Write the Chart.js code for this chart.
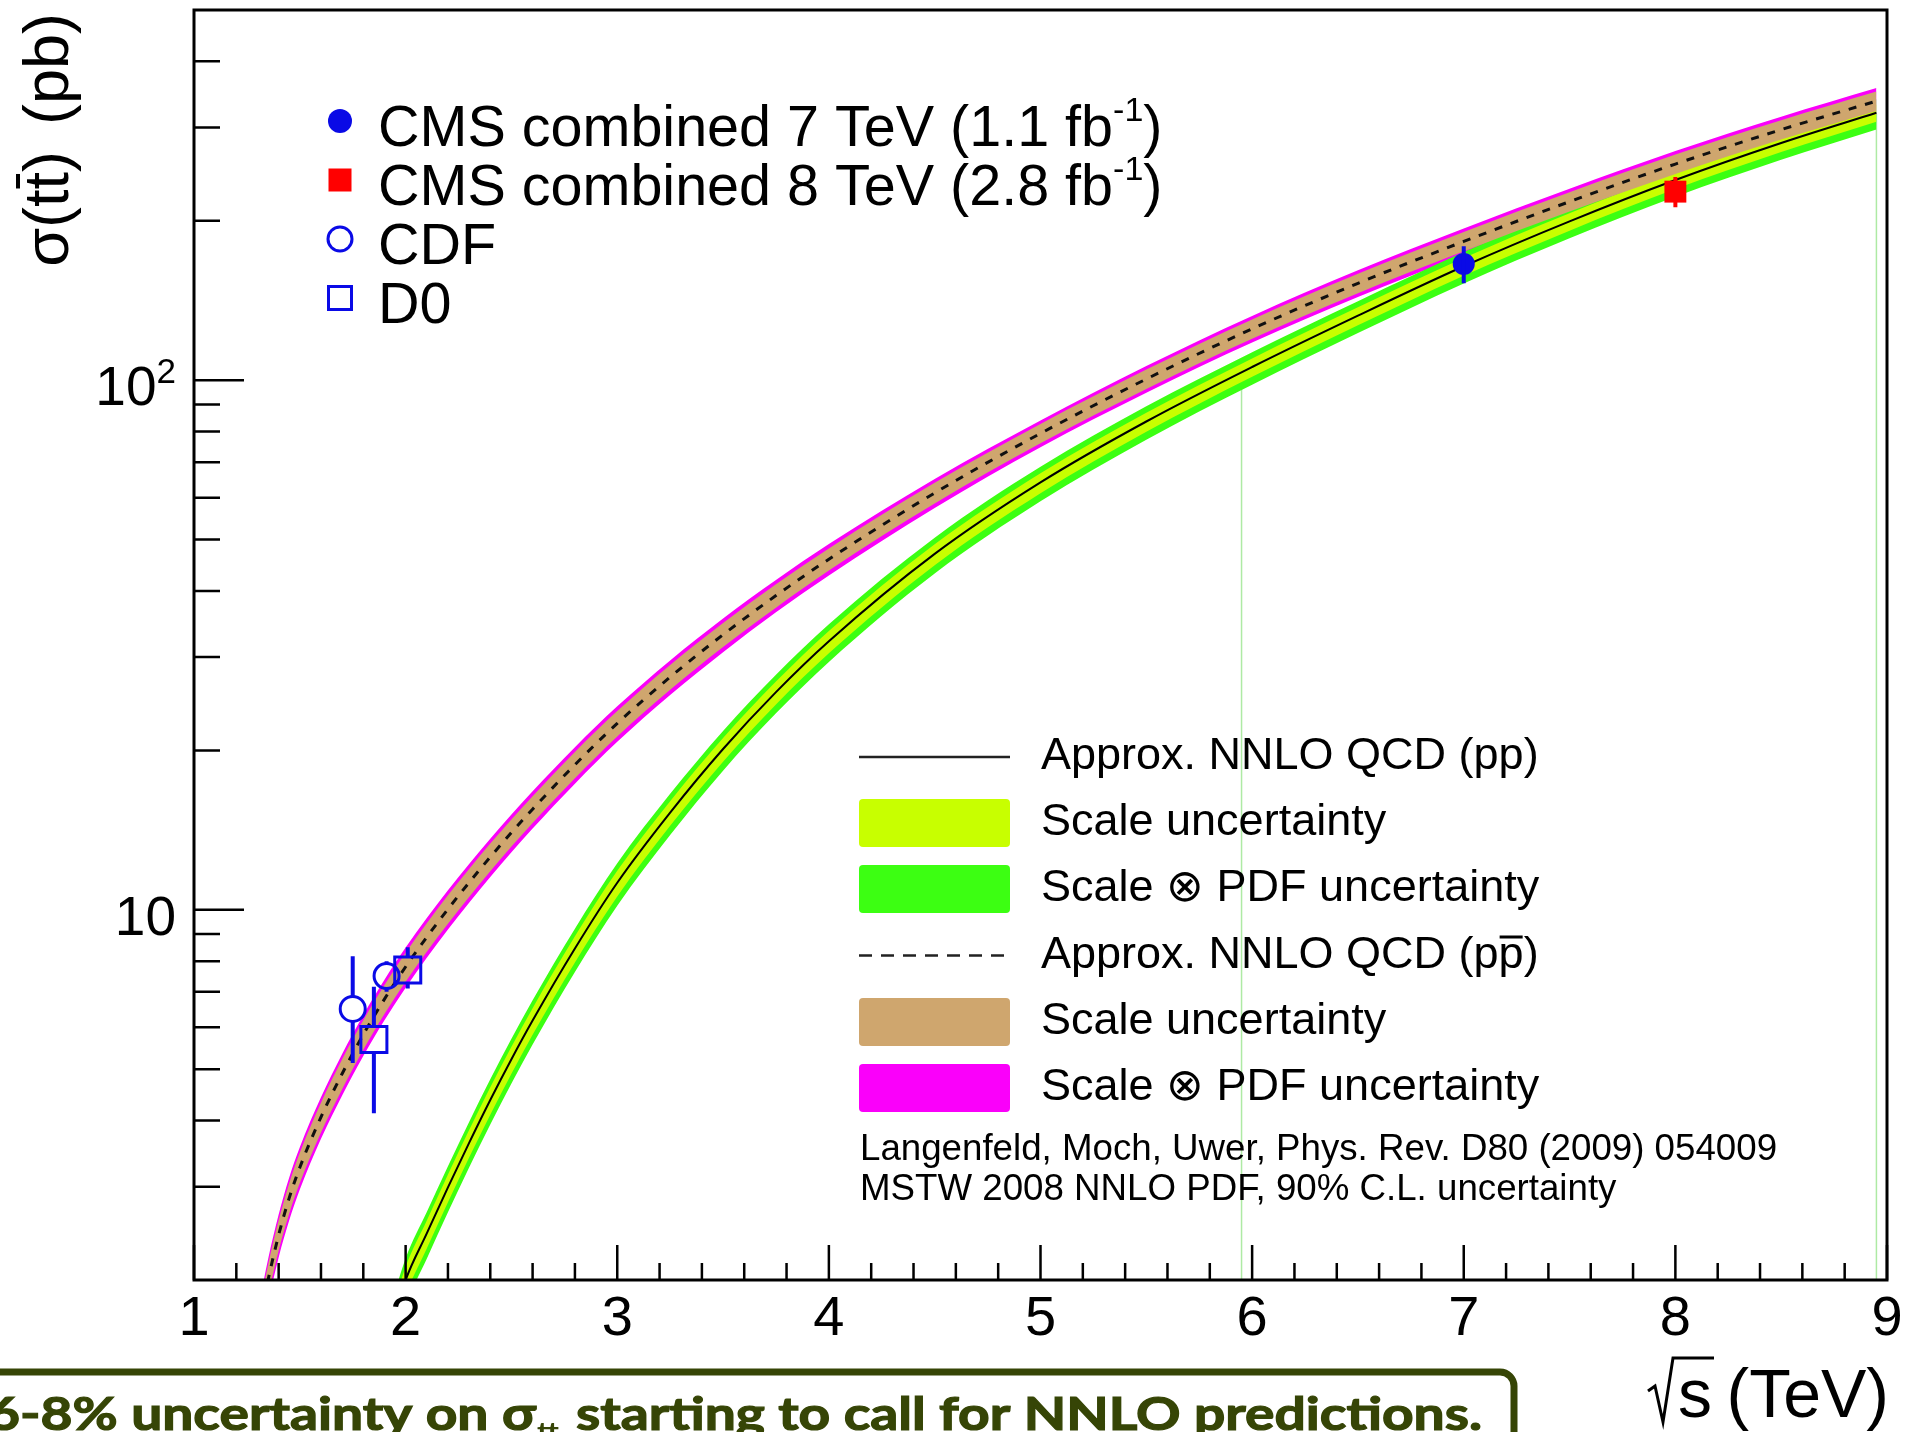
<!DOCTYPE html>
<html>
<head>
<meta charset="utf-8">
<script src="https://cdn.jsdelivr.net/npm/chart.js@4.4.1/dist/chart.umd.min.js"></script>
<style>
html,body{margin:0;padding:0;background:#fff;overflow:hidden}
canvas{display:block}
</style>
</head>
<body>
<canvas id="c" width="1905" height="1432"></canvas>
<script>
// ---------------- data ----------------
// pp (LHC) approx. NNLO prediction, sigma(ttbar) in pb
const sqrtS_pp   = [1.9, 2.0, 2.1, 2.2, 2.3, 2.4, 2.5, 2.6, 2.8, 3.0, 3.25, 3.5, 3.75, 4.0, 4.5, 5.0, 5.5, 6.0, 6.5, 7.0, 7.5, 8.0, 8.5, 8.95];
const pp_central = [1.48, 2.0, 2.449, 2.992, 3.631, 4.375, 5.224, 6.18, 8.453, 11.25, 15.26, 20.12, 25.76, 32.14, 46.99, 64.12, 83.56, 105.9, 132.4, 164.1, 199.5, 238.8, 280.5, 319.9];
// relative uncertainties in percent
const pp_scaleUpPct   = [5.9, 5.9, 5.8, 5.8, 5.7, 5.7, 5.6, 5.5, 5.4, 5.3, 5.1, 4.9, 4.7, 4.6, 4.3, 4.1, 3.9, 3.8, 3.7, 3.7, 3.6, 3.6, 3.5, 3.5];
const pp_scaleDownPct = [6.4, 6.4, 6.3, 6.3, 6.2, 6.2, 6.1, 6.0, 5.9, 5.8, 5.6, 5.4, 5.2, 5.1, 4.8, 4.6, 4.4, 4.2, 4.1, 4.0, 4.0, 3.9, 3.9, 3.9];
const pp_totUpPct     = [9.8, 9.8, 9.7, 9.6, 9.5, 9.4, 9.3, 9.2, 9.0, 8.8, 8.5, 8.2, 7.9, 7.7, 7.3, 7.0, 6.8, 6.6, 6.5, 6.4, 6.3, 6.2, 6.1, 6.0];
const pp_totDownPct   = [10.5, 10.5, 10.4, 10.3, 10.2, 10.1, 10.0, 9.9, 9.7, 9.5, 9.3, 9.0, 8.8, 8.6, 8.2, 7.9, 7.6, 7.4, 7.3, 7.2, 7.1, 7.0, 7.0, 7.0];

// p-pbar approx. NNLO prediction, sigma(ttbar) in pb
const sqrtS_ppbar   = [1.3, 1.35, 1.4, 1.45, 1.5, 1.6, 1.7, 1.8, 1.9, 2.0, 2.1, 2.2, 2.3, 2.4, 2.5, 2.6, 2.8, 3.0, 3.25, 3.5, 3.75, 4.0, 4.5, 5.0, 5.5, 6.0, 6.5, 7.0, 7.5, 8.0, 8.5, 8.95];
const ppbar_central = [1.589, 2.0, 2.432, 2.858, 3.263, 4.06, 4.903, 5.814, 6.783, 7.806, 8.882, 10.03, 11.26, 12.58, 13.99, 15.49, 18.79, 22.49, 27.51, 33.07, 39.2, 45.92, 61.24, 79.34, 100.5, 125.0, 152.4, 182.8, 217.3, 255.9, 297.2, 336.5];
const ppbar_scalePct = [6.7, 6.7, 6.6, 6.6, 6.6, 6.5, 6.5, 6.4, 6.3, 6.3, 6.2, 6.2, 6.1, 6.0, 5.9, 5.8, 5.7, 5.5, 5.4, 5.2, 5.1, 4.8, 4.5, 4.2, 4.2, 4.2, 4.2, 4.2, 4.2, 4.2, 4.2, 4.2];
const ppbar_totPct   = [9.4, 9.4, 9.3, 9.3, 9.2, 9.0, 9.0, 8.9, 8.8, 8.7, 8.6, 8.5, 8.4, 8.3, 8.2, 8.1, 7.9, 7.7, 7.5, 7.3, 7.0, 6.8, 6.3, 5.8, 5.8, 5.8, 5.8, 5.8, 5.8, 5.8, 5.8, 5.8];

// band edge artefact lines (vertical, light green), hidden under the band at the top
const edgeSqrtS  = [5.95, 8.95];
const edgeTop    = [103, 318];
const edgeBottom = [2, 2];

// measurements
const cms7_sqrtS = [7.0], cms7_xsec = [165.8], cms7_low = [152.5], cms7_high = [179];
const cms8_sqrtS = [8.0], cms8_xsec = [227],   cms8_low = [212],   cms8_high = [242];
const cdf_sqrtS  = [1.75, 1.91], cdf_xsec = [6.5, 7.5],  cdf_low = [5.14, 7.0], cdf_high = [8.17, 8.0];
const d0_sqrtS   = [1.85, 2.01], d0_xsec  = [5.69, 7.7], d0_low  = [4.13, 7.1], d0_high  = [7.16, 8.5];

// axes
const xTickValues = [1, 2, 3, 4, 5, 6, 7, 8, 9];
const xTickLabels = ['1', '2', '3', '4', '5', '6', '7', '8', '9'];
const yTickValues = [10, 100];
const yTickLabels = ['10', '10^{2}'];

// legends / texts
const topLegend = ['CMS combined 7 TeV (1.1 fb^{-1})', 'CMS combined 8 TeV (2.8 fb^{-1})', 'CDF', 'D0'];
const rightLegend = ['Approx. NNLO QCD (pp)', 'Scale uncertainty', 'Scale ⊗ PDF uncertainty', 'Approx. NNLO QCD (pp)', 'Scale uncertainty', 'Scale ⊗ PDF uncertainty'];
const citation = ['Langenfeld, Moch, Uwer, Phys. Rev. D80 (2009) 054009', 'MSTW 2008 NNLO PDF, 90% C.L. uncertainty'];
const bannerParts = ['6-8% uncertainty on σ', 'tt', ' starting to call for NNLO predictions.'];

// ---------------- styles ----------------
const F = '"Liberation Sans", Arial, Helvetica, sans-serif';
const C = {
  green: '#3cff12', yellow: '#c8ff00', tan: '#cfa66e', magenta: '#fa00fa',
  blue: '#0a0ae6', red: '#ff0000', olive: '#364506', edge: '#aeeaa4'
};

const pts = (xs, ys) => xs.map((x, i) => ({x, y: ys[i]}));
const edge = (xs, ys, pct, sign) => xs.map((x, i) => ({x, y: ys[i] * (1 + sign * pct[i] / 100)}));
function band(data, color, fillTo, order) {
  return {data, borderWidth: 0, pointRadius: 0, backgroundColor: color, borderColor: color,
          fill: fillTo === null ? false : fillTo, order, cubicInterpolationMode: 'monotone', clip: 0};
}

const datasets = [
  band(edge(sqrtS_ppbar, ppbar_central, ppbar_totPct, +1), C.magenta, 1, 10),    // 0
  band(edge(sqrtS_ppbar, ppbar_central, ppbar_totPct, -1), C.magenta, null, 10), // 1
  band(edge(sqrtS_pp, pp_central, pp_totUpPct, +1), C.green, 3, 9),              // 2
  band(edge(sqrtS_pp, pp_central, pp_totDownPct, -1), C.green, null, 9),         // 3
  band(edge(sqrtS_pp, pp_central, pp_scaleUpPct, +1), C.yellow, 5, 8),           // 4
  band(edge(sqrtS_pp, pp_central, pp_scaleDownPct, -1), C.yellow, null, 8),      // 5
  band(edge(sqrtS_ppbar, ppbar_central, ppbar_scalePct, +1), C.tan, 7, 7),       // 6
  band(edge(sqrtS_ppbar, ppbar_central, ppbar_scalePct, -1), C.tan, null, 7),    // 7
  {data: [{x: edgeSqrtS[0], y: edgeTop[0]}, {x: edgeSqrtS[0], y: edgeBottom[0]}], borderColor: C.edge, borderWidth: 1.5, pointRadius: 0, fill: false, order: 11, clip: 0},
  {data: [{x: edgeSqrtS[1], y: edgeTop[1]}, {x: edgeSqrtS[1], y: edgeBottom[1]}], borderColor: C.edge, borderWidth: 1.5, pointRadius: 0, fill: false, order: 11, clip: 0},
  {data: pts(sqrtS_pp, pp_central), borderColor: '#000', borderWidth: 2, pointRadius: 0, fill: false, order: 3, cubicInterpolationMode: 'monotone', clip: 0},
  {data: pts(sqrtS_ppbar, ppbar_central), borderColor: '#111', borderWidth: 3, borderDash: [8, 9], pointRadius: 0, fill: false, order: 3, cubicInterpolationMode: 'monotone', clip: 0},
  {data: pts(cms7_sqrtS, cms7_xsec), showLine: false, pointStyle: 'circle', pointRadius: 11, backgroundColor: C.blue, borderColor: C.blue, borderWidth: 0, order: 1, errLow: cms7_low, errHigh: cms7_high, errColor: C.blue, gap: 0},
  {data: pts(cms8_sqrtS, cms8_xsec), showLine: false, pointStyle: 'rect', pointRadius: 15.5, backgroundColor: C.red, borderColor: C.red, borderWidth: 0, order: 1, errLow: cms8_low, errHigh: cms8_high, errColor: C.red, gap: 0},
  {data: pts(cdf_sqrtS, cdf_xsec), showLine: false, pointStyle: 'circle', pointRadius: 12.5, backgroundColor: 'rgba(0,0,0,0)', borderColor: C.blue, borderWidth: 3, order: 1, errLow: cdf_low, errHigh: cdf_high, errColor: C.blue, gap: 13},
  {data: pts(d0_sqrtS, d0_xsec), showLine: false, pointStyle: 'rect', pointRadius: 18.4, backgroundColor: 'rgba(0,0,0,0)', borderColor: C.blue, borderWidth: 3, order: 1, errLow: d0_low, errHigh: d0_high, errColor: C.blue, gap: 13},
];

// ---------------- plugins ----------------
const errorBars = {
  id: 'errorBars',
  afterDatasetsDraw(chart) {
    const {ctx, scales: {x, y}} = chart;
    ctx.save();
    chart.data.datasets.forEach(ds => {
      if (!ds.errLow) return;
      ds.data.forEach((p, i) => {
        const px = x.getPixelForValue(p.x), py = y.getPixelForValue(p.y);
        const ph = y.getPixelForValue(ds.errHigh[i]), pl = y.getPixelForValue(ds.errLow[i]);
        ctx.strokeStyle = ds.errColor; ctx.lineWidth = 4; ctx.lineCap = 'butt';
        ctx.beginPath();
        if (ph < py - ds.gap) { ctx.moveTo(px, ph); ctx.lineTo(px, py - ds.gap); }
        if (pl > py + ds.gap) { ctx.moveTo(px, py + ds.gap); ctx.lineTo(px, pl); }
        ctx.stroke();
      });
    });
    ctx.restore();
  }
};

const frameTicks = {
  id: 'frameTicks',
  afterDatasetsDraw(chart) {
    const {ctx, chartArea: a, scales: {x, y}} = chart;
    ctx.save();
    ctx.strokeStyle = '#000';
    ctx.lineWidth = 2.5;
    ctx.beginPath();
    for (let k = 0; k <= 40; k++) {
      const v = 1 + k * 0.2;
      const px = x.getPixelForValue(v);
      const len = (k % 5 === 0) ? 35 : 17;
      ctx.moveTo(px, a.bottom); ctx.lineTo(px, a.bottom - len);
    }
    [1, 10, 100].forEach(d => {
      for (let m = 1; m <= 9; m++) {
        const v = d * m;
        if (v <= 2 || v >= 500) continue;
        const py = y.getPixelForValue(v);
        const len = (m === 1) ? 50 : 26;
        ctx.moveTo(a.left, py); ctx.lineTo(a.left + len, py);
      }
    });
    ctx.stroke();
    ctx.lineWidth = 3;
    ctx.strokeRect(a.left, a.top, a.right - a.left, a.bottom - a.top);
    ctx.restore();
  }
};

function drawRich(ctx, str, x, y, size, supSize, raise) {
  const parts = str.split(/\^\{([^}]*)\}/);
  let cx = x;
  parts.forEach((t, i) => {
    if (!t) return;
    if (i % 2 === 1) {
      ctx.font = `${supSize}px ${F}`;
      ctx.fillText(t, cx, y - raise);
    } else {
      ctx.font = `${size}px ${F}`;
      ctx.fillText(t, cx, y);
    }
    cx += ctx.measureText(t).width;
  });
  return cx - x;
}
function richWidth(ctx, str, size, supSize) {
  const parts = str.split(/\^\{([^}]*)\}/);
  let w = 0;
  parts.forEach((t, i) => {
    if (!t) return;
    ctx.font = `${i % 2 ? supSize : size}px ${F}`;
    w += ctx.measureText(t).width;
  });
  return w;
}

const annotations = {
  id: 'annotations',
  afterDraw(chart) {
    const {ctx, chartArea: a, scales: {y}} = chart;
    ctx.save();
    ctx.textBaseline = 'alphabetic';
    ctx.textAlign = 'left';
    ctx.fillStyle = '#000';

    // ---- y tick labels (10, 10^2) ----
    yTickValues.forEach((v, i) => {
      const py = y.getPixelForValue(v);
      const w = richWidth(ctx, yTickLabels[i], 55, 35);
      ctx.fillStyle = '#000';
      drawRich(ctx, yTickLabels[i], a.left - 18 - w, py + 25, 55, 35, 22);
    });

    // ---- top-left legend ----
    const tBase = [146, 205, 264, 323];
    const mx = 340;
    tBase.forEach((b, i) => {
      ctx.fillStyle = '#000';
      drawRich(ctx, topLegend[i], 378, b, 57.5, 34, 25);
      const my = b - 25;
      ctx.lineWidth = 3;
      if (i === 0) { ctx.fillStyle = C.blue; ctx.beginPath(); ctx.arc(mx, my, 12, 0, 2 * Math.PI); ctx.fill(); }
      if (i === 1) { ctx.fillStyle = C.red; ctx.fillRect(mx - 11.5, my - 11.5, 23, 23); }
      if (i === 2) { ctx.strokeStyle = C.blue; ctx.beginPath(); ctx.arc(mx, my, 12, 0, 2 * Math.PI); ctx.stroke(); }
      if (i === 3) { ctx.strokeStyle = C.blue; ctx.strokeRect(mx - 11.5, my - 11.5, 23, 23); }
    });

    // ---- right legend ----
    const rx0 = 859, rx1 = 1010, tx = 1041;
    const centers = [757, 823, 889, 955.5, 1022, 1088];
    const swatch = [null, C.yellow, C.green, null, C.tan, C.magenta];
    centers.forEach((cy, i) => {
      if (i === 0 || i === 3) {
        ctx.strokeStyle = '#222'; ctx.lineWidth = 2.5;
        ctx.setLineDash(i === 3 ? [13, 9] : []);
        ctx.beginPath(); ctx.moveTo(rx0, cy); ctx.lineTo(rx1, cy); ctx.stroke();
        ctx.setLineDash([]);
      } else {
        ctx.fillStyle = swatch[i];
        ctx.beginPath();
        if (ctx.roundRect) ctx.roundRect(rx0, cy - 24, rx1 - rx0, 48, 4); else ctx.rect(rx0, cy - 24, rx1 - rx0, 48);
        ctx.fill();
      }
      ctx.fillStyle = '#000';
      ctx.font = `45px ${F}`;
      const base = cy + 12;
      ctx.fillText(rightLegend[i], tx, base);
      if (i === 3) {
        const full = rightLegend[i];
        const w1 = ctx.measureText(full.slice(0, full.length - 2)).width;
        const w2 = ctx.measureText(full.slice(0, full.length - 1)).width;
        ctx.fillRect(tx + w1 + 1, base - 32, (w2 - w1) - 2, 3);
      }
    });
    ctx.font = `36.7px ${F}`;
    ctx.fillText(citation[0], 860, 1160);
    ctx.fillText(citation[1], 860, 1200);

    // ---- y-axis title ----
    ctx.font = `63px ${F}`;
    ctx.save();
    ctx.translate(68, 13);
    ctx.rotate(-Math.PI / 2);
    ctx.textAlign = 'right';
    ctx.fillText('(pb)', 0, 0);
    ctx.restore();
    ctx.save();
    ctx.translate(68, 151);
    ctx.rotate(-Math.PI / 2);
    ctx.textAlign = 'left';
    const ys = 'σ(tt)';
    const ws = ctx.measureText(ys).width;
    ctx.fillText(ys, -ws, 0);
    const wa = ctx.measureText('σ(t').width, wb = ctx.measureText('σ(tt').width;
    ctx.fillRect(-ws + wa + 1, -52, (wb - wa) - 3, 4);
    ctx.restore();

    // ---- x-axis title ----
    ctx.font = `68px ${F}`;
    ctx.textAlign = 'right';
    ctx.fillText('(TeV)', 1889, 1417);
    ctx.fillText('s', 1712, 1417);
    ctx.strokeStyle = '#000'; ctx.lineWidth = 3; ctx.lineJoin = 'miter';
    ctx.beginPath();
    ctx.moveTo(1648, 1391); ctx.lineTo(1655, 1386); ctx.lineTo(1663, 1422);
    ctx.lineTo(1673, 1358); ctx.lineTo(1714, 1358);
    ctx.stroke();

    // ---- banner ----
    ctx.strokeStyle = C.olive; ctx.lineWidth = 7;
    ctx.beginPath();
    ctx.moveTo(-10, 1372); ctx.lineTo(1500, 1372);
    ctx.arcTo(1514, 1372, 1514, 1386, 14);
    ctx.lineTo(1514, 1450);
    ctx.stroke();
    ctx.fillStyle = C.olive;
    ctx.strokeStyle = C.olive;
    ctx.lineWidth = 1.2;
    ctx.textAlign = 'left';
    const bigF = 'bold 46px Lato, "Open Sans", sans-serif';
    const subF = 'bold 26px Lato, "Open Sans", sans-serif';
    ctx.font = bigF; const w1 = ctx.measureText(bannerParts[0]).width;
    ctx.font = subF; const w2 = ctx.measureText(bannerParts[1]).width + 4;
    ctx.font = bigF; const w3 = ctx.measureText(bannerParts[2]).width;
    const sx = 1494 / (w1 + w2 + w3);
    ctx.save();
    ctx.translate(-12, 1430);
    ctx.scale(sx, 1);
    ctx.font = bigF; ctx.fillText(bannerParts[0], 0, 0); ctx.strokeText(bannerParts[0], 0, 0);
    ctx.font = subF; ctx.fillText(bannerParts[1], w1 + 1, 11);
    ctx.font = bigF; ctx.fillText(bannerParts[2], w1 + w2, 0); ctx.strokeText(bannerParts[2], w1 + w2, 0);
    ctx.restore();

    ctx.restore();
  }
};

// ---------------- chart ----------------
new Chart(document.getElementById('c'), {
  type: 'line',
  data: {datasets},
  options: {
    responsive: false,
    animation: false,
    devicePixelRatio: 1,
    layout: {padding: {left: 0, right: 18, top: 10, bottom: 0}, autoPadding: false},
    plugins: {legend: {display: false}, tooltip: {enabled: false}, title: {display: false}},
    scales: {
      x: {
        type: 'linear', min: 1, max: 9,
        grid: {display: false, drawTicks: false}, border: {display: false},
        afterBuildTicks: s => { s.ticks = xTickValues.map(v => ({value: v})); },
        afterFit: s => { s.height = 152; s.paddingLeft = 0; s.paddingRight = 0; },
        ticks: {autoSkip: false, maxRotation: 0, padding: 6, color: '#000',
                font: {family: F, size: 56, lineHeight: 1.2},
                callback: (v, i) => xTickLabels[i]}
      },
      y: {
        type: 'logarithmic', min: 2, max: 500,
        grid: {display: false, drawTicks: false}, border: {display: false},
        afterBuildTicks: s => { s.ticks = yTickValues.map(v => ({value: v})); },
        afterFit: s => { s.width = 194; s.paddingTop = 0; s.paddingBottom = 0; },
        ticks: {display: false}
      }
    }
  },
  plugins: [errorBars, frameTicks, annotations]
});
</script>
</body>
</html>
